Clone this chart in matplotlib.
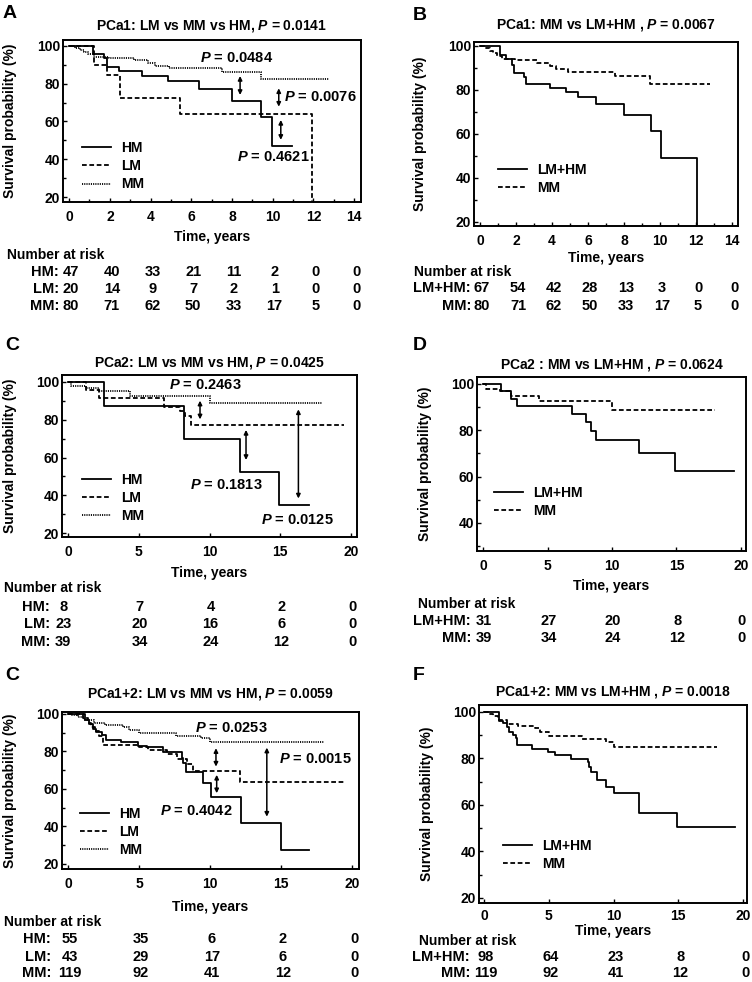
import matplotlib
matplotlib.use('Agg')
import matplotlib.pyplot as plt
import matplotlib.transforms as mtransforms
from matplotlib.ticker import MultipleLocator

W, H = 752, 982

plt.rcParams['font.family'] = ['Liberation Sans', 'DejaVu Sans']
plt.rcParams['font.weight'] = 'bold'
plt.rcParams['axes.labelweight'] = 'bold'
plt.rcParams['mathtext.fontset'] = 'custom'
plt.rcParams['mathtext.it'] = 'Liberation Sans:italic:bold'
plt.rcParams['mathtext.rm'] = 'Liberation Sans:bold'
plt.rcParams['mathtext.bf'] = 'Liberation Sans:bold'
plt.rcParams['lines.scale_dashes'] = False

# ---- Kaplan-Meier curves (time in years, survival in %) ----
# PCa1
hm1_t = [0, 1.16, 1.7, 1.87, 2.44, 3.6, 4.86, 6.37, 8.0, 9.43, 9.97, 10.95]
hm1_s = [100, 95.7, 93.6, 89.0, 86.9, 84.2, 81.5, 77.3, 71.0, 62.2, 46.9, 46.9]
lm1_t = [0, 1.2, 1.87, 2.52, 5.47, 11.95, 12.0]
lm1_s = [100, 90.0, 84.5, 72.2, 64.2, 0, 0]
mm1_t = [0, 0.3, 0.55, 0.75, 0.95, 1.2, 1.95, 3.18, 3.9, 4.2, 4.9, 7.5, 9.43, 12.75]
mm1_s = [100, 99.0, 97.8, 96.6, 95.4, 94.2, 93.4, 92.3, 90.6, 89.4, 88.2, 86.1, 82.4, 82.4]
lmhm1_t = [0, 1.1, 1.45, 1.8, 1.9, 2.45, 2.55, 3.9, 4.8, 5.47, 6.44, 8.0, 9.5, 10.05, 12.04, 12.1]
lmhm1_s = [100, 95.8, 93.9, 91.2, 87.7, 85.6, 82.6, 80.9, 78.8, 76.6, 73.7, 68.7, 61.2, 49.0, 0, 0]

# PCa2
hm2_t = [0, 2.57, 8.22, 12.16, 14.9, 17.0]
hm2_s = [100, 87.5, 70.0, 52.5, 35.0, 35.0]
lm2_t = [0, 1.3, 2.2, 6.8, 7.9, 8.25, 8.7, 19.5]
lm2_s = [100, 95.7, 91.3, 87.0, 84.8, 82.0, 77.0, 77.0]
mm2_t = [0, 0.2, 1.3, 2.2, 4.35, 10.0, 17.96]
mm2_s = [100, 97.8, 96.8, 95.0, 92.6, 88.9, 88.9]
lmhm2_t = [0, 1.37, 2.14, 2.6, 6.87, 7.96, 8.35, 8.73, 12.1, 14.9, 19.45]
lmhm2_s = [100, 96.8, 93.5, 90.3, 87.0, 83.4, 79.6, 75.8, 70.4, 62.6, 62.6]

# PCa1+2
hm12_t = [0, 1.2, 1.5, 1.78, 2.0, 2.37, 2.68, 3.7, 4.95, 5.55, 6.7, 8.0, 8.1, 8.3, 9.5, 10.1, 12.2, 14.98, 17.0]
hm12_s = [100, 96.8, 94.5, 92.0, 90.5, 88.8, 86.1, 84.9, 83.1, 82.2, 79.9, 76.4, 73.7, 69.2, 63.0, 55.9, 41.7, 27.5, 27.5]
lm12_t = [0, 1.08, 1.4, 1.65, 1.9, 2.2, 2.5, 5.0, 5.6, 6.95, 7.65, 8.36, 8.8, 12.1, 19.4]
lm12_s = [100, 97.7, 95.3, 93.0, 90.7, 88.4, 83.5, 82.6, 80.8, 78.5, 76.2, 73.2, 69.8, 63.6, 63.6]
mm12_t = [0, 0.3, 0.7, 1.1, 1.8, 2.6, 3.9, 4.3, 5.0, 7.6, 9.4, 10.0, 18.0]
mm12_s = [100, 99.2, 98.3, 96.5, 95.0, 94.1, 93.0, 91.5, 89.8, 88.3, 87.1, 85.0, 85.0]
lmhm12_t = [0, 1.16, 1.45, 1.8, 1.95, 2.2, 2.45, 2.57, 3.73, 4.9, 5.5, 6.7, 8.0, 8.1, 8.24, 8.75, 9.4, 10.04, 12.0, 14.9, 19.4]
lmhm12_s = [100, 96.3, 95.1, 93.7, 91.5, 90.1, 88.7, 85.8, 84.1, 82.9, 81.5, 79.8, 78.4, 76.5, 74.3, 70.8, 67.6, 65.0, 56.7, 50.4, 50.4]

# ---- number at risk ----
risk_x14 = [0, 2, 4, 6, 8, 10, 12, 14]
risk_x20 = [0, 5, 10, 15, 20]
hm1_risk = [47, 40, 33, 21, 11, 2, 0, 0]
lm1_risk = [20, 14, 9, 7, 2, 1, 0, 0]
mm1_risk = [80, 71, 62, 50, 33, 17, 5, 0]
lmhm1_risk = [67, 54, 42, 28, 13, 3, 0, 0]
hm2_risk = [8, 7, 4, 2, 0]
lm2_risk = [23, 20, 16, 6, 0]
mm2_risk = [39, 34, 24, 12, 0]
lmhm2_risk = [31, 27, 20, 8, 0]
hm12_risk = [55, 35, 6, 2, 0]
lm12_risk = [43, 29, 17, 6, 0]
mm12_risk = [119, 92, 41, 12, 0]
lmhm12_risk = [98, 64, 23, 8, 0]

SOLID = dict(linestyle='-')
DASHED = dict(dashes=(3.4, 1.9))
DOTTED = dict(dashes=(0.8, 0.8))

fig = plt.figure(figsize=(W / 100, H / 100), dpi=100)


def fy(py):
    return 1 - py / H


def make_axes(l, t, r, b, xlim, ylim, xmajor, xminor, yticks, xpad=6):
    ax = fig.add_axes([l / W, 1 - b / H, (r - l) / W, (b - t) / H])
    ax.set_xlim(xlim)
    ax.set_ylim(ylim)
    ax.xaxis.set_major_locator(MultipleLocator(xmajor))
    if xminor:
        ax.xaxis.set_minor_locator(MultipleLocator(xminor))
    ax.set_yticks(yticks)
    ax.yaxis.set_minor_locator(MultipleLocator(10))
    ax.tick_params(which='both', direction='in', top=False, right=False, labelsize=10, width=1.0)
    ax.tick_params(which='major', length=3.2)
    ax.tick_params(which='minor', length=2.0)
    ax.tick_params(axis='x', pad=xpad)
    ax.tick_params(axis='y', pad=2)
    for sp in ax.spines.values():
        sp.set_linewidth(1.4)
    return ax


def curves(ax, series, leg_xy):
    for t, s, sty, name in series:
        ax.step(t, s, where='post', color='black', lw=1.3, label=name, **sty)
    ax.legend(loc='lower left', bbox_to_anchor=leg_xy, frameon=False, fontsize=10,
              handlelength=2.1, handletextpad=0.7, labelspacing=0.3,
              borderpad=0, borderaxespad=0)


def pvals(ax, arrows, texts):
    for x, y0, y1 in arrows:
        ax.annotate('', xy=(x, y1), xytext=(x, y0),
                    arrowprops=dict(arrowstyle='<|-|>', color='black', lw=1.1,
                                    mutation_scale=6, shrinkA=0, shrinkB=0))
    for x, y, txt, ha in texts:
        ax.text(x, y, r'$P$ = ' + txt, ha=ha, va='center', fontsize=10.5)


def labels(ax, letter, letter_xy, title, title_y, xlab_y, ylab_x):
    bb = ax.get_position()
    cx = (bb.x0 + bb.x1) / 2
    cy = (bb.y0 + bb.y1) / 2
    fig.text(letter_xy[0] / W, fy(letter_xy[1]), letter, fontsize=14, ha='left', va='center')
    fig.text(cx, fy(title_y), title, fontsize=10, ha='center', va='center')
    fig.text(cx, fy(xlab_y), 'Time, years', fontsize=10, ha='center', va='center')
    fig.text(ylab_x / W, cy, 'Survival probability (%)', fontsize=10, rotation=90,
             ha='center', va='center')


def risk_table(ax, head_x, head_y, lab_x, rows, shift=0):
    tr = mtransforms.blended_transform_factory(ax.transData, fig.transFigure)
    tr = mtransforms.offset_copy(tr, fig=fig, x=shift, y=0, units='dots')
    fig.text(head_x / W, fy(head_y), 'Number at risk', fontsize=10, ha='left', va='center')
    for name, xs, vals, py in rows:
        fig.text(lab_x / W, fy(py), name + ':', fontsize=10.5, ha='right', va='center')
        for x, v in zip(xs, vals):
            ax.text(x, fy(py), str(v), transform=tr, fontsize=10.5, ha='center', va='center')


# ---- A ----
axA = make_axes(63, 40, 361, 202, (-0.3, 14.34), (17.5, 103), 2, 1, [20, 40, 60, 80, 100])
curves(axA, [(hm1_t, hm1_s, SOLID, 'HM'), (lm1_t, lm1_s, DASHED, 'LM'), (mm1_t, mm1_s, DOTTED, 'MM')],
       (0.064, 0.065))
pvals(axA, [(8.4, 84.0, 74.0), (10.3, 77.5, 67.8), (10.4, 60.8, 50.3)],
      [(8.25, 93.3, '0.0484', 'center'), (10.55, 72.8, '0.0076', 'left'), (10.05, 41.5, '0.4621', 'center')])
labels(axA, 'A', (3, 13), r'PCa1: LM vs MM vs HM, $P$ = 0.0141', 26, 237, 10)
risk_table(axA, 7, 255, 59, [('HM', risk_x14, hm1_risk, 272), ('LM', risk_x14, lm1_risk, 289),
                             ('MM', risk_x14, mm1_risk, 306)], shift=2)

# ---- B ----
axB = make_axes(474, 42, 738, 226, (-0.33, 14.33), (18.1, 101.7), 2, 1, [20, 40, 60, 80, 100])
curves(axB, [(lmhm1_t, lmhm1_s, SOLID, 'LM+HM'), (mm1_t, mm1_s, DASHED, 'MM')], (0.09, 0.17))
labels(axB, 'B', (413, 15), r'PCa1: MM vs LM+HM , $P$ = 0.0067', 25, 258, 420)
risk_table(axB, 414, 272, 471, [('LM+HM', risk_x14, lmhm1_risk, 288), ('MM', risk_x14, mm1_risk, 306)],
           shift=2)

# ---- C ----
axC = make_axes(62, 375, 357, 537, (-0.42, 20.42), (17.9, 103.7), 5, None, [20, 40, 60, 80, 100])
curves(axC, [(hm2_t, hm2_s, SOLID, 'HM'), (lm2_t, lm2_s, DASHED, 'LM'), (mm2_t, mm2_s, DOTTED, 'MM')],
       (0.068, 0.085))
pvals(axC, [(9.33, 90.1, 80.2), (12.58, 74.6, 58.7), (16.28, 85.5, 38.3)],
      [(9.68, 98.4, '0.2463', 'center'), (11.2, 45.4, '0.1813', 'center'), (16.2, 26.9, '0.0125', 'center')])
labels(axC, 'C', (5, 345), r'PCa2: LM vs MM vs HM, $P$ = 0.0425', 363, 573, 10)
cx0 = [-0.4, 5, 10, 15, 20]
risk_table(axC, 4, 588, 50, [('HM', cx0, hm2_risk, 607), ('LM', cx0, lm2_risk, 624),
                             ('MM', cx0, mm2_risk, 642)], shift=1)

# ---- D ----
axD = make_axes(477, 377, 746, 551, (-0.47, 20.39), (27.9, 103), 5, None, [40, 60, 80, 100])
curves(axD, [(lmhm2_t, lmhm2_s, SOLID, 'LM+HM'), (mm2_t, mm2_s, DASHED, 'MM')], (0.063, 0.19))
labels(axD, 'D', (413, 346), r'PCa2 : MM vs LM+HM , $P$ = 0.0624', 365, 586, 425)
risk_table(axD, 418, 604, 471, [('LM+HM', risk_x20, lmhm2_risk, 621), ('MM', risk_x20, mm2_risk, 638)],
           shift=1)

# ---- E (labelled C in the original) ----
axE = make_axes(62, 712, 359, 869, (-0.42, 20.49), (17.3, 101), 5, None, [20, 40, 60, 80, 100])
curves(axE, [(hm12_t, hm12_s, SOLID, 'HM'), (lm12_t, lm12_s, DASHED, 'LM'), (mm12_t, mm12_s, DOTTED, 'MM')],
       (0.06, 0.076))
pvals(axE, [(10.42, 81.7, 71.9), (10.47, 67.5, 57.7), (14.0, 82.0, 45.2)],
      [(11.5, 92.4, '0.0253', 'center'), (17.4, 76.0, '0.0015', 'center'), (9.06, 48.3, '0.4042', 'center')])
labels(axE, 'C', (5, 675), r'PCa1+2: LM vs MM vs HM, $P$ = 0.0059', 694, 907, 10)
risk_table(axE, 4, 922, 51, [('HM', risk_x20, hm12_risk, 939), ('LM', risk_x20, lm12_risk, 957),
                             ('MM', risk_x20, mm12_risk, 973)], shift=2)

# ---- F ----
axF = make_axes(479, 705, 747, 903, (-0.39, 20.3), (17.8, 103), 5, None, [20, 40, 60, 80, 100], xpad=4.5)
curves(axF, [(lmhm12_t, lmhm12_s, SOLID, 'LM+HM'), (mm12_t, mm12_s, DASHED, 'MM')], (0.09, 0.16))
labels(axF, 'F', (413, 675), r'PCa1+2: MM vs LM+HM , $P$ = 0.0018', 692, 931, 427)
risk_table(axF, 419, 941, 470, [('LM+HM', risk_x20, lmhm12_risk, 957), ('MM', risk_x20, mm12_risk, 973)],
           shift=2)

fig.savefig('out.png', dpi=100)
